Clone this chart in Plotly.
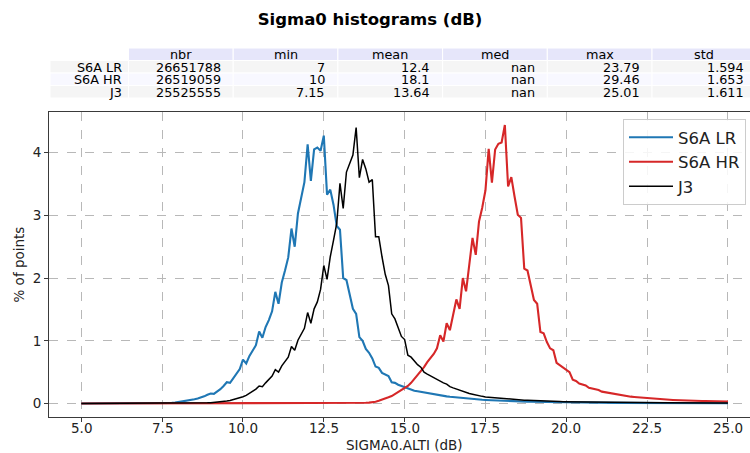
import plotly.graph_objects as go

# ---------------- data ----------------
BIN_START = 5.0
BIN_STEP = 0.1

s6a_lr = [
    0, 0, 0, 0, 0, 0, 0, 0, 0, 0,
    0, 0, 0, 0, 0, 0, 0, 0, 0, 0.001,
    0.001, 0.002, 0.002, 0.003, 0.004, 0.005, 0.006, 0.008, 0.011, 0.015,
    0.022, 0.030, 0.038, 0.048, 0.058, 0.068, 0.08, 0.095, 0.115, 0.14,
    0.16, 0.155, 0.19, 0.23, 0.28, 0.34, 0.33, 0.40, 0.47, 0.55,
    0.70, 0.64, 0.76, 0.84, 0.93, 1.15, 1.05, 1.22, 1.33, 1.47,
    1.78, 1.59, 1.93, 2.12, 2.33, 2.79, 2.50, 3.03, 3.30, 3.53,
    4.13, 3.55, 4.05, 4.08, 4.03, 4.27, 3.33, 3.41, 3.17, 2.83,
    2.77, 2.00, 1.97, 1.73, 1.51, 1.43, 1.06, 1.00, 0.87, 0.81,
    0.72, 0.59, 0.57, 0.49, 0.46, 0.44, 0.34, 0.33, 0.30, 0.28,
    0.26, 0.24, 0.22, 0.205, 0.195, 0.185, 0.175, 0.17, 0.16, 0.15,
    0.14, 0.13, 0.122, 0.115, 0.108, 0.102, 0.097, 0.092, 0.087, 0.082,
    0.077, 0.072, 0.068, 0.064, 0.06, 0.057, 0.054, 0.051, 0.048, 0.046,
    0.044, 0.042, 0.04, 0.038, 0.036, 0.034, 0.033, 0.031, 0.03, 0.029,
    0.028, 0.027, 0.026, 0.025, 0.024, 0.023, 0.022, 0.021, 0.02, 0.02,
    0.019, 0.018, 0.018, 0.017, 0.016, 0.016, 0.015, 0.015, 0.014, 0.014,
    0.013, 0.013, 0.012, 0.012, 0.012, 0.011, 0.011, 0.011, 0.01, 0.01,
    0.01, 0.01, 0.009, 0.009, 0.009, 0.009, 0.008, 0.008, 0.008, 0.008,
    0.007, 0.007, 0.007, 0.007, 0.007, 0.006, 0.006, 0.006, 0.006, 0.006,
    0.005, 0.005, 0.005, 0.005, 0.005, 0.005, 0.004, 0.004, 0.004, 0.004,
    0.004,
]

s6a_hr = [
    0, 0, 0, 0, 0, 0, 0, 0, 0, 0,
    0, 0, 0, 0, 0, 0, 0, 0, 0, 0,
    0, 0, 0, 0, 0, 0, 0, 0, 0, 0,
    0, 0, 0, 0, 0, 0, 0, 0, 0, 0,
    0, 0, 0, 0, 0, 0, 0, 0, 0, 0,
    0, 0, 0, 0, 0, 0, 0, 0, 0, 0,
    0, 0, 0, 0, 0, 0, 0, 0, 0, 0,
    0, 0, 0, 0, 0, 0, 0, 0, 0, 0,
    0.001, 0.002, 0.002, 0.003, 0.004, 0.005, 0.007, 0.009, 0.012, 0.015,
    0.02, 0.03, 0.045, 0.06, 0.08, 0.10, 0.12, 0.15, 0.18, 0.21,
    0.24, 0.28, 0.33, 0.39, 0.45, 0.51, 0.58, 0.66, 0.72, 0.79,
    0.88, 1.09, 0.99, 1.28, 1.17, 1.42, 1.66, 1.51, 2.00, 1.79,
    2.22, 2.64, 2.37, 2.90, 3.12, 3.40, 4.06, 3.52, 4.05, 4.14,
    4.16, 4.44, 3.46, 3.61, 3.30, 3.01, 2.96, 2.15, 2.12, 1.87,
    1.65, 1.59, 1.14, 1.12, 0.98, 0.88, 0.85, 0.65, 0.61, 0.57,
    0.53, 0.50, 0.38, 0.36, 0.32, 0.30, 0.29, 0.25, 0.24, 0.22,
    0.215, 0.19, 0.18, 0.17, 0.16, 0.15, 0.14, 0.13, 0.12, 0.115,
    0.11, 0.105, 0.10, 0.095, 0.09, 0.086, 0.082, 0.078, 0.074, 0.07,
    0.067, 0.064, 0.061, 0.058, 0.055, 0.053, 0.051, 0.049, 0.047, 0.045,
    0.043, 0.042, 0.041, 0.040, 0.039, 0.038, 0.037, 0.036, 0.035, 0.034,
    0.033,
]

j3 = [
    0, 0, 0, 0, 0, 0, 0, 0, 0, 0,
    0, 0, 0, 0, 0, 0, 0, 0, 0, 0,
    0, 0, 0, 0, 0, 0, 0.001, 0.001, 0.001, 0.002,
    0.002, 0.003, 0.003, 0.004, 0.005, 0.006, 0.007, 0.008, 0.010, 0.012,
    0.014, 0.017, 0.021, 0.026, 0.032, 0.040, 0.050, 0.062, 0.075, 0.09,
    0.11, 0.13, 0.16, 0.19, 0.23, 0.28, 0.27, 0.33, 0.39, 0.44,
    0.54, 0.50, 0.60, 0.67, 0.74, 0.91, 0.85, 1.01, 1.10, 1.20,
    1.45, 1.28, 1.51, 1.62, 1.82, 2.20, 1.98, 2.34, 2.60, 2.87,
    3.51, 3.11, 3.69, 3.84, 3.96, 4.40, 3.60, 3.89, 3.74, 3.53,
    3.57, 2.66, 2.66, 2.34, 2.06, 1.88, 1.43, 1.35, 1.22, 1.07,
    1.02, 0.77, 0.74, 0.67, 0.62, 0.58, 0.50, 0.47, 0.44, 0.42,
    0.39, 0.36, 0.33, 0.31, 0.27, 0.25, 0.23, 0.215, 0.19, 0.17,
    0.16, 0.15, 0.135, 0.125, 0.115, 0.105, 0.10, 0.095, 0.09, 0.085,
    0.08, 0.076, 0.072, 0.068, 0.064, 0.06, 0.057, 0.054, 0.051, 0.048,
    0.046, 0.044, 0.042, 0.040, 0.038, 0.036, 0.035, 0.033, 0.032, 0.031,
    0.030, 0.029, 0.028, 0.027, 0.026, 0.025, 0.024, 0.023, 0.023, 0.022,
    0.021, 0.021, 0.020, 0.019, 0.019, 0.018, 0.018, 0.017, 0.017, 0.016,
    0.016, 0.015, 0.015, 0.015, 0.014, 0.014, 0.013, 0.013, 0.013, 0.012,
    0.012, 0.012, 0.011, 0.011, 0.011, 0.011, 0.010, 0.010, 0.010, 0.010,
    0.009, 0.009, 0.009, 0.009, 0.009, 0.008, 0.008, 0.008, 0.008, 0.008,
    0.008,
]

x_vals = [round(BIN_START + BIN_STEP * i, 1) for i in range(len(s6a_lr))]

x_ticks = [5.0, 7.5, 10.0, 12.5, 15.0, 17.5, 20.0, 22.5, 25.0]
y_ticks = [0, 1, 2, 3, 4]

table_row_labels = ["S6A LR", "S6A HR", "J3"]
table_col_labels = ["nbr", "min", "mean", "med", "max", "std"]
col_nbr = ["26651788", "26519059", "25525555"]
col_min = ["7", "10", "7.15"]
col_mean = ["12.4", "18.1", "13.64"]
col_med = ["nan", "nan", "nan"]
col_max = ["23.79", "29.46", "25.01"]
col_std = ["1.594", "1.653", "1.611"]
table_columns = [col_nbr, col_min, col_mean, col_med, col_max, col_std]

# ---------------- layout geometry ----------------
W, H = 750, 453
ML, MR, MT, MB = 49, 0, 112, 36
PW = W - ML - MR
PH = H - MT - MB


def px(xp):
    return (xp - ML) / PW


def py(yp):
    return (H - MB - yp) / PH


FONT = "DejaVu Sans"
TFS = 12.8  # table font size

fig = go.Figure()
fig.add_trace(go.Scatter(x=x_vals, y=s6a_lr, mode="lines", name="S6A LR",
                         line=dict(color="#1f77b4", width=2.1)))
fig.add_trace(go.Scatter(x=x_vals, y=s6a_hr, mode="lines", name="S6A HR",
                         line=dict(color="#d62728", width=2.1)))
fig.add_trace(go.Scatter(x=x_vals, y=j3, mode="lines", name="J3",
                         line=dict(color="black", width=1.5)))

shapes = []
annotations = []

# table
col_left0 = 128.5
col_w = 104.7
lab_left = 50
row_edges = [48, 60.5, 73, 85.5, 98]
row_fills = ["#f5f5f5", "#f8f8ff", "#f5f5f5"]
for k, lab in enumerate(table_col_labels):
    x0 = col_left0 + k * col_w
    x1 = x0 + col_w
    shapes.append(dict(type="rect", xref="paper", yref="paper",
                       x0=px(x0), x1=px(x1), y0=py(row_edges[1]), y1=py(row_edges[0]),
                       fillcolor="#e6e6fa", line=dict(color="white", width=1), layer="above"))
    annotations.append(dict(xref="paper", yref="paper", x=px((x0 + x1) / 2),
                            y=py((row_edges[0] + row_edges[1]) / 2 + 0.5),
                            text=lab, showarrow=False, xanchor="center", yanchor="middle",
                            font=dict(family=FONT, size=TFS, color="black")))
for r, rlab in enumerate(table_row_labels):
    y0p, y1p = row_edges[r + 1], row_edges[r + 2]
    shapes.append(dict(type="rect", xref="paper", yref="paper",
                       x0=px(lab_left), x1=px(col_left0), y0=py(y1p), y1=py(y0p),
                       fillcolor=row_fills[r], line=dict(color="white", width=1), layer="above"))
    annotations.append(dict(xref="paper", yref="paper", x=px(col_left0 - 5),
                            y=py((y0p + y1p) / 2 + 0.5), text=rlab, showarrow=False,
                            xanchor="right", yanchor="middle",
                            font=dict(family=FONT, size=TFS, color="black")))
    for k, col in enumerate(table_columns):
        x0 = col_left0 + k * col_w
        x1 = x0 + col_w
        shapes.append(dict(type="rect", xref="paper", yref="paper",
                           x0=px(x0), x1=px(x1), y0=py(y1p), y1=py(y0p),
                           fillcolor=row_fills[r], line=dict(color="white", width=1), layer="above"))
        annotations.append(dict(xref="paper", yref="paper", x=px(x1 - 10.5),
                                y=py((y0p + y1p) / 2 + 0.5), text=col[r], showarrow=False,
                                xanchor="right", yanchor="middle",
                                font=dict(family=FONT, size=TFS, color="black")))

# x tick labels (placed just under the axis, as in the reference)
for v in x_ticks:
    annotations.append(dict(xref="x", yref="paper", x=v, y=py(427.5),
                            text=f"{v:.1f}", showarrow=False, xanchor="center",
                            yanchor="middle", font=dict(family=FONT, size=13.5, color="#222")))

# axis titles
annotations.append(dict(xref="paper", yref="paper", x=px(404), y=py(444.5),
                        text="SIGMA0.ALTI (dB)", showarrow=False, xanchor="center",
                        yanchor="middle", font=dict(family=FONT, size=13.5, color="#222")))
annotations.append(dict(xref="paper", yref="paper", x=px(18), y=py(264.5),
                        text="% of points", showarrow=False, xanchor="center",
                        yanchor="middle", textangle=-90,
                        font=dict(family=FONT, size=13.5, color="#222")))

fig.update_layout(
    width=W, height=H,
    margin=dict(l=ML, r=MR, t=MT, b=MB, pad=0),
    paper_bgcolor="white", plot_bgcolor="white",
    font=dict(family=FONT, size=13.5, color="#222"),
    title=dict(text="Sigma0 histograms (dB)", x=370 / W, xref="container", xanchor="center",
               y=1 - 19 / H, yref="container", yanchor="middle",
               font=dict(family=FONT, size=16.5, color="black", weight="bold")),
    showlegend=True,
    legend=dict(x=px(746), y=py(119), xanchor="right", yanchor="top",
                bgcolor="rgba(255,255,255,0.85)", bordercolor="#cccccc", borderwidth=1,
                font=dict(family=FONT, size=16.5, color="#222"),
                itemwidth=44, tracegroupgap=0),
    shapes=shapes,
    annotations=annotations,
)

fig.update_xaxes(range=[4.0, 4.0 + PW / 32.33], tickvals=x_ticks, showticklabels=False,
                 showgrid=True, gridcolor="#b8b8b8", gridwidth=0.8, griddash="dash",
                 zeroline=False, showline=True, linecolor="#3a3a3a", linewidth=1.1,
                 mirror=True, ticks="outside", ticklen=4, tickcolor="#3a3a3a")
fig.update_yaxes(range=[-0.214, 4.647], tickvals=y_ticks,
                 showgrid=True, gridcolor="#b8b8b8", gridwidth=0.8, griddash="dash",
                 zeroline=False, showline=True, linecolor="#3a3a3a", linewidth=1.1,
                 mirror=False, ticks="outside", ticklen=4, tickcolor="#3a3a3a",
                 tickfont=dict(family=FONT, size=13.5, color="#222"))

fig.write_html("out.html")
